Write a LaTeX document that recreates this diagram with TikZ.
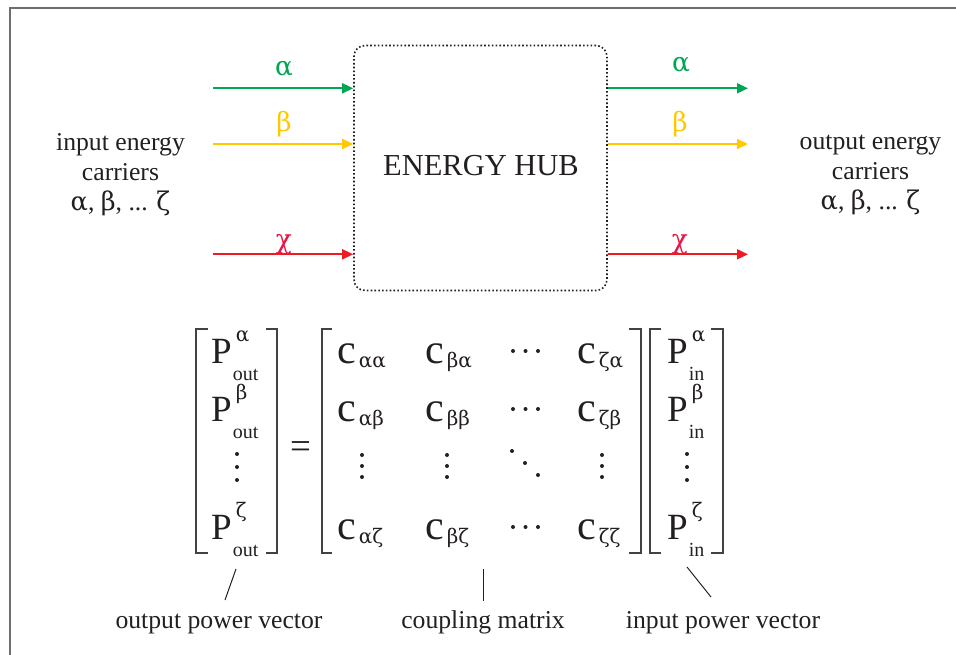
\documentclass[tikz,border=0pt]{standalone}
\usepackage{fontspec}
\setmainfont{Liberation Serif}
\newfontfamily\grk{DejaVu Serif}
\usetikzlibrary{arrows.meta}
\definecolor{cgreen}{RGB}{0,166,81}
\definecolor{cyellow}{RGB}{255,200,0}
\definecolor{cred}{RGB}{237,28,36}
\definecolor{cchi}{RGB}{232,22,68}
\definecolor{ink}{RGB}{35,31,32}
\definecolor{framegray}{RGB}{110,110,110}
\newcommand\sfnt{\fontsize{20}{20}\selectfont}
\newcommand\gfnt{\grk\fontsize{20}{20}\selectfont}
\newcommand\Pvec[2]{P\rlap{\kern4pt\raisebox{22pt}{\gfnt #1}}\kern1pt\raisebox{-17pt}{\sfnt #2}}
\newcommand\cent[1]{{\fontsize{42}{44}\selectfont c}\kern3pt\raisebox{-4pt}{\gfnt #1}}
\begin{document}
\begin{tikzpicture}[x=1pt,y=-1pt,
  flow/.style={line width=1.8pt,-{Triangle[length=11pt,width=10pt]}},
  lbl/.style={font=\grk\fontsize{26.5}{30}\selectfont,anchor=base,inner sep=0pt},
  txt/.style={font=\fontsize{25.7}{30}\selectfont,text=ink,align=center,inner sep=0pt},
  ent/.style={font=\fontsize{37}{40}\selectfont,text=ink,anchor=base west,inner sep=0pt},
  brk/.style={line width=1.6pt,draw=ink!85},
  dotc/.style={fill=ink,draw=none},
  ptr/.style={line width=1pt,draw=ink}]
\useasboundingbox (0,0) rectangle (956,655);
\draw[framegray,line width=2pt] (10,655) -- (10,8) -- (956,8);

% hub
\node[draw=ink,line width=1.6pt,dash pattern=on 1.6pt off 2.2pt,rounded corners=11pt,
      minimum width=253pt,minimum height=245pt,inner sep=0pt] (hub) at (480.5,168) {};
\node[font=\fontsize{30.5}{33}\selectfont,text=ink,anchor=base,inner sep=0pt] (hubtext) at (481,176) {ENERGY HUB};

% side texts
\node[txt] (intext) at (120.5,175) {input energy\\carriers\\{\grk α}, {\grk β}, ... {\grk ζ}};
\node[txt] (outtext) at (870.5,175) {output energy\\carriers\\{\grk α}, {\grk β}, ... {\grk ζ}};

% arrows
\coordinate (ia) at (213,88.3);
\coordinate (ib) at (213,144);
\coordinate (ic) at (213,254.3);
\coordinate (oa) at (748,88.3);
\coordinate (ob) at (748,144);
\coordinate (oc) at (748,254.3);
\draw[flow,cgreen] (ia) -- (ia -| hub.west);
\draw[flow,cyellow] (ib) -- (ib -| hub.west);
\draw[flow,cred] (ic) -- (ic -| hub.west);
\draw[flow,cgreen] (oa -| hub.east) -- (oa);
\draw[flow,cyellow] (ob -| hub.east) -- (ob);
\draw[flow,cred] (oc -| hub.east) -- (oc);
\node[lbl,text=cgreen] (lia) at (284,76) {α};
\node[lbl,text=cyellow] (lib) at (284,132) {β};
\node[lbl,text=cchi] (lic) at (284,248) {χ};
\node[lbl,text=cgreen] (loa) at (681,72) {α};
\node[lbl,text=cyellow] (lob) at (680,132) {β};
\node[lbl,text=cchi] (loc) at (680,248) {χ};

% output vector
\node[ent] (po1) at (211,363) {\Pvec{α}{out}};
\node[ent] (po2) at (211,421) {\Pvec{β}{out}};
\node[ent] (po4) at (211,539) {\Pvec{ζ}{out}};
\foreach \yy in {454,467,480} \fill[dotc] (237,\yy) circle (2pt);
\draw[brk] (208,329) -- (196,329) -- (196,553) -- (208,553);
\draw[brk] (266,329) -- (277,329) -- (277,553) -- (266,553);

% equals
\node[ent,anchor=base] (eq) at (300.5,458) {=};

% coupling matrix
\node[ent] (c11) at (337,363) {\cent{αα}};
\node[ent] (c21) at (425,363) {\cent{βα}};
\node[ent] (c41) at (577,363) {\cent{ζα}};
\node[ent] (c12) at (337,421) {\cent{αβ}};
\node[ent] (c22) at (425,421) {\cent{ββ}};
\node[ent] (c42) at (577,421) {\cent{ζβ}};
\node[ent] (c14) at (337,539) {\cent{αζ}};
\node[ent] (c24) at (425,539) {\cent{βζ}};
\node[ent] (c44) at (577,539) {\cent{ζζ}};
\foreach \yy in {351,409,527} \foreach \xx in {513,525.5,538} \fill[dotc] (\xx,\yy) circle (2pt);
\foreach \xx in {362,447,602} \foreach \yy in {455,466,477} \fill[dotc] (\xx,\yy) circle (2pt);
\fill[dotc] (512,451) circle (2pt) (525,463) circle (2pt) (538,475) circle (2pt);
\draw[brk] (332,329) -- (322,329) -- (322,553) -- (332,553);
\draw[brk] (629,329) -- (641,329) -- (641,553) -- (629,553);

% input vector
\node[ent] (pi1) at (667,363) {\Pvec{α}{in}};
\node[ent] (pi2) at (667,421) {\Pvec{β}{in}};
\node[ent] (pi4) at (667,539) {\Pvec{ζ}{in}};
\foreach \yy in {454,467,480} \fill[dotc] (687,\yy) circle (2pt);
\draw[brk] (661,329) -- (650,329) -- (650,553) -- (661,553);
\draw[brk] (711,329) -- (723,329) -- (723,553) -- (711,553);

% labels
\node[txt,anchor=base] (lo) at (219,628) {output power vector};
\node[txt,anchor=base] (lc) at (483,628) {coupling matrix};
\node[txt,anchor=base] (li) at (723,628) {input power vector};
\coordinate (s1a) at (236,569);
\coordinate (s1b) at (225,600);
\coordinate (s2a) at (483,569);
\coordinate (s2b) at (483,601);
\coordinate (s3a) at (687,567);
\coordinate (s3b) at (711,597);
\draw[ptr] (s1a) -- (s1b);
\draw[ptr] (s2a) -- (s2b);
\draw[ptr] (s3a) -- (s3b);
\end{tikzpicture}
\end{document}
